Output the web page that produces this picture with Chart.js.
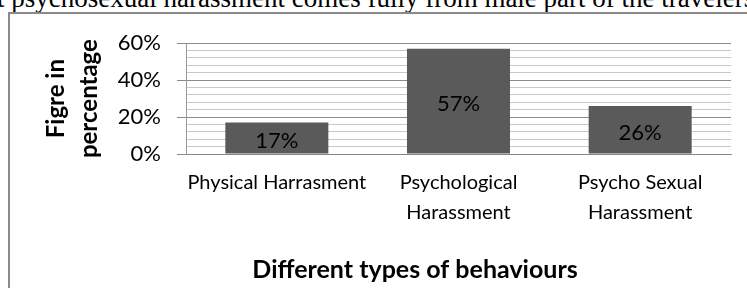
<!DOCTYPE html>
<html>
<head>
<meta charset="utf-8">
<script src="https://cdn.jsdelivr.net/npm/chart.js@4/dist/chart.umd.min.js"></script>
<style>
  html, body { margin: 0; padding: 0; width: 747px; height: 288px; overflow: hidden; background: #fff; }
  #caption { position: absolute; left: -3px; top: -15px; font-family: "Liberation Serif", "Times New Roman", serif; font-size: 27px; line-height: 27px; white-space: nowrap; color: #000; }
  #box { position: absolute; left: 8px; top: 12px; width: 810px; height: 290px; border-left: 2px solid #8a8a8a; border-top: 2px solid #8a8a8a; }
  #c { display: block; }
</style>
</head>
<body>
<div id="caption">t psychosexual harassment comes fully from male part of the travelers</div>
<div id="box"><canvas id="c" width="810" height="276"></canvas></div>
<script>
const categories = [["Physical Harrasment"], ["Psychological", "Harassment"], ["Psycho Sexual", "Harassment"]];
const values = [17, 57, 26];
const yTickValues = [0, 20, 40, 60];
const xTitle = "Different types of behaviours";
const yTitle = ["Figre in", "percentage"];

const FONT = "Lato, 'Open Sans', sans-serif";

const barLabels = {
  id: 'barLabels',
  afterDatasetsDraw(chart) {
    const ctx = chart.ctx;
    const meta = chart.getDatasetMeta(0);
    ctx.save();
    ctx.font = "22px " + FONT;
    ctx.fillStyle = "#000";
    ctx.textAlign = "center";
    ctx.textBaseline = "middle";
    meta.data.forEach((bar, i) => {
      const y = (bar.y + bar.base) / 2 + 3;
      ctx.fillText(values[i] + "%", bar.x, y);
    });
    ctx.restore();
  }
};

new Chart(document.getElementById('c'), {
  type: 'bar',
  data: {
    labels: categories,
    datasets: [{
      data: values,
      backgroundColor: '#5a5a5a',
      borderWidth: 0,
      barPercentage: 0.567,
      categoryPercentage: 1.0
    }]
  },
  options: {
    responsive: false,
    animation: false,
    devicePixelRatio: 1,
    layout: { padding: { left: 28, right: 28, top: 28, bottom: 0 } },
    plugins: {
      legend: { display: false },
      tooltip: { enabled: false },
      title: {
        display: true,
        text: xTitle,
        position: 'bottom',
        color: '#000',
        font: { family: FONT, size: 25, weight: 'bold', lineHeight: 1.2 },
        padding: { top: 0, bottom: 5 }
      }
    },
    scales: {
      x: {
        grid: { display: false, drawTicks: false },
        border: { display: true, color: '#868686', width: 1 },
        ticks: {
          color: '#000',
          padding: 14,
          maxRotation: 0,
          autoSkip: false,
          font: { family: FONT, size: 20, lineHeight: 1.5 }
        },
        afterFit(s) { s.height = 101; }
      },
      y: {
        min: 0,
        max: 60,
        grid: {
          color: (c) => (c.tick && yTickValues.includes(c.tick.value)) ? '#8a8a8a' : '#c8c8c8',
          tickColor: (c) => (c.tick && yTickValues.includes(c.tick.value)) ? '#8a8a8a' : 'rgba(0,0,0,0)',
          tickLength: 9,
          drawTicks: true
        },
        border: { display: true, color: '#9a9a9a', width: 1 },
        ticks: {
          stepSize: 4,
          autoSkip: false,
          padding: 16,
          color: '#000',
          font: { family: FONT, size: 22 },
          callback: (v) => yTickValues.includes(v) ? v + '%' : ''
        },
        title: {
          display: true,
          text: yTitle,
          color: '#000',
          font: { family: FONT, size: 24, weight: 'bold', lineHeight: 1.4 },
          padding: { top: 1, bottom: 0 }
        },
        afterFit(s) { s.width = 148; }
      },
      y2: {
        type: 'linear',
        position: 'right',
        display: true,
        grid: { display: false, drawTicks: false },
        border: { display: false },
        ticks: { display: false },
        afterFit(s) { s.width = 61; }
      }
    }
  },
  plugins: [barLabels]
});
</script>
</body>
</html>
